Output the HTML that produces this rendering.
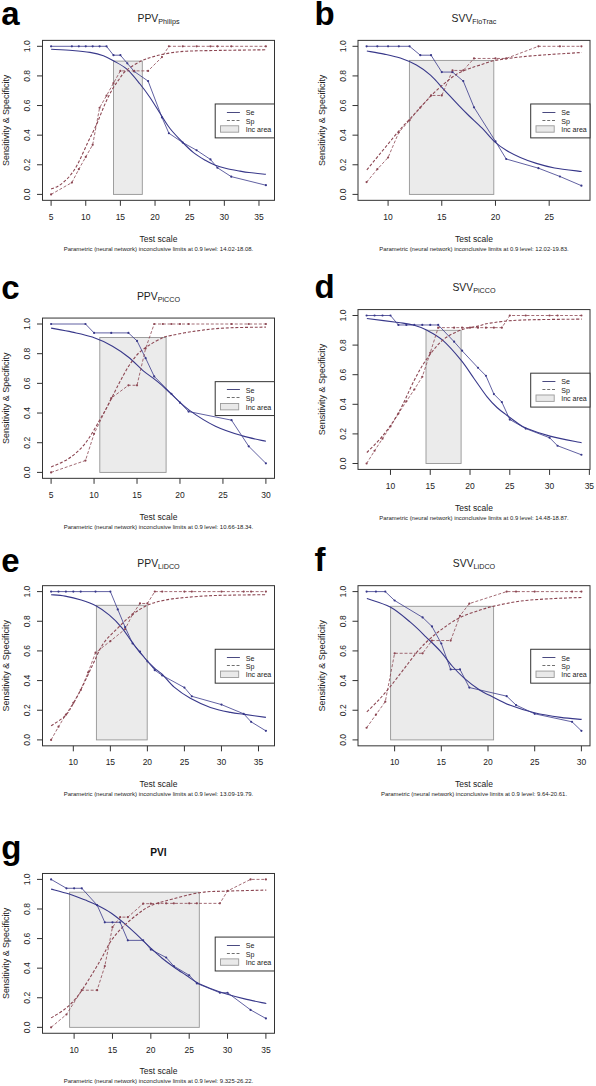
<!DOCTYPE html>
<html><head><meta charset="utf-8"><style>
html,body{margin:0;padding:0;background:#fff;}
svg{display:block;font-family:"Liberation Sans", sans-serif;}
</style></head><body>
<svg width="596" height="1086" viewBox="0 0 596 1086">
<rect width="596" height="1086" fill="#fff"/>
<text x="1.2" y="24.5" font-size="33" font-weight="bold" fill="#000">a</text>
<text x="158.5" y="21.98" text-anchor="middle" fill="#222"><tspan font-size="10.4">PPV</tspan><tspan font-size="7.2" dy="2">Philips</tspan></text>
<rect x="113.5" y="61.1" width="28.8" height="133.3" fill="#ebebeb" stroke="#959595" stroke-width="0.9"/>
<path d="M51.1,49.3 C54.67,49.5 66.02,49.98 72.5,50.5 C78.98,51.02 84.85,51.53 90,52.4 C95.15,53.27 99.48,54.3 103.4,55.7 C107.32,57.1 109.58,58.55 113.5,60.8 C117.42,63.05 122.48,65.33 126.9,69.2 C131.32,73.07 136.15,79.28 140,84 C143.85,88.72 146.3,92.03 150,97.5 C153.7,102.97 158.87,111.63 162.2,116.8 C165.53,121.97 166.73,124.38 170,128.5 C173.27,132.62 177.88,137.48 181.8,141.5 C185.72,145.52 189.58,149.47 193.5,152.6 C197.42,155.73 201.77,158.23 205.3,160.3 C208.83,162.37 211.18,163.63 214.7,165 C218.22,166.37 222.18,167.48 226.4,168.5 C230.62,169.52 236.23,170.43 240,171.1 C243.77,171.77 244.68,171.97 249,172.5 C253.32,173.03 263.08,174 265.9,174.3" fill="none" stroke="#38388a" stroke-width="1.1"/>
<path d="M51.1,188.9 C52.18,188.48 55.53,187.52 57.6,186.4 C59.67,185.28 61.4,184.02 63.5,182.2 C65.6,180.38 67.87,178.45 70.2,175.5 C72.53,172.55 74.6,169.93 77.5,164.5 C80.4,159.07 84.52,149.37 87.6,142.9 C90.68,136.43 93.77,130.58 96,125.7 C98.23,120.82 99.33,117.58 101,113.6 C102.67,109.62 104.18,105.72 106,101.8 C107.82,97.88 109.8,93.73 111.9,90.1 C114,86.47 116.22,83.27 118.6,80 C120.98,76.73 122.47,73.65 126.2,70.5 C129.93,67.35 136.3,63.45 141,61.1 C145.7,58.75 149.57,57.75 154.4,56.4 C159.23,55.05 164.65,53.87 170,53 C175.35,52.13 178.17,51.63 186.5,51.2 C194.83,50.77 206.77,50.63 220,50.4 C233.23,50.17 258.25,49.9 265.9,49.8" fill="none" stroke="#8c4652" stroke-width="1.1" stroke-dasharray="3,1.8"/>
<polyline points="51.1,46.3 71.89,46.3 78.82,46.3 85.75,46.3 92.67,46.3 99.6,46.3 106.53,46.3 113.46,55.19 120.39,55.19 127.32,63.33 134.25,71.48 148.11,81.1 161.96,117.39 168.89,133.23 182.75,142.56 196.61,150.27 210.47,159.45 217.4,167.74 231.25,176.63 265.9,185.22" fill="none" stroke="#38388a" stroke-width="0.8"/>
<polyline points="51.1,194.4 71.89,182.55 78.82,169.22 85.75,156.93 92.67,144.79 99.6,107.76 106.53,95.62 113.46,83.18 120.39,70.88 134.25,70.88 148.11,70.88 161.96,57.11 168.89,46.3 182.75,46.3 196.61,46.3 210.47,46.3 217.4,46.3 231.25,46.3 265.9,46.3" fill="none" stroke="#8c4652" stroke-width="0.8" stroke-dasharray="3,1.8"/>
<circle cx="51.1" cy="46.3" r="1.1" fill="#38388a"/>
<circle cx="71.89" cy="46.3" r="1.1" fill="#38388a"/>
<circle cx="78.82" cy="46.3" r="1.1" fill="#38388a"/>
<circle cx="85.75" cy="46.3" r="1.1" fill="#38388a"/>
<circle cx="92.67" cy="46.3" r="1.1" fill="#38388a"/>
<circle cx="99.6" cy="46.3" r="1.1" fill="#38388a"/>
<circle cx="106.53" cy="46.3" r="1.1" fill="#38388a"/>
<circle cx="113.46" cy="55.19" r="1.1" fill="#38388a"/>
<circle cx="120.39" cy="55.19" r="1.1" fill="#38388a"/>
<circle cx="127.32" cy="63.33" r="1.1" fill="#38388a"/>
<circle cx="134.25" cy="71.48" r="1.1" fill="#38388a"/>
<circle cx="148.11" cy="81.1" r="1.1" fill="#38388a"/>
<circle cx="161.96" cy="117.39" r="1.1" fill="#38388a"/>
<circle cx="168.89" cy="133.23" r="1.1" fill="#38388a"/>
<circle cx="182.75" cy="142.56" r="1.1" fill="#38388a"/>
<circle cx="196.61" cy="150.27" r="1.1" fill="#38388a"/>
<circle cx="210.47" cy="159.45" r="1.1" fill="#38388a"/>
<circle cx="217.4" cy="167.74" r="1.1" fill="#38388a"/>
<circle cx="231.25" cy="176.63" r="1.1" fill="#38388a"/>
<circle cx="265.9" cy="185.22" r="1.1" fill="#38388a"/>
<circle cx="51.1" cy="194.4" r="1.1" fill="#8c4652"/>
<circle cx="71.89" cy="182.55" r="1.1" fill="#8c4652"/>
<circle cx="78.82" cy="169.22" r="1.1" fill="#8c4652"/>
<circle cx="85.75" cy="156.93" r="1.1" fill="#8c4652"/>
<circle cx="92.67" cy="144.79" r="1.1" fill="#8c4652"/>
<circle cx="99.6" cy="107.76" r="1.1" fill="#8c4652"/>
<circle cx="106.53" cy="95.62" r="1.1" fill="#8c4652"/>
<circle cx="113.46" cy="83.18" r="1.1" fill="#8c4652"/>
<circle cx="120.39" cy="70.88" r="1.1" fill="#8c4652"/>
<circle cx="134.25" cy="70.88" r="1.1" fill="#8c4652"/>
<circle cx="148.11" cy="70.88" r="1.1" fill="#8c4652"/>
<circle cx="161.96" cy="57.11" r="1.1" fill="#8c4652"/>
<circle cx="168.89" cy="46.3" r="1.1" fill="#8c4652"/>
<circle cx="182.75" cy="46.3" r="1.1" fill="#8c4652"/>
<circle cx="196.61" cy="46.3" r="1.1" fill="#8c4652"/>
<circle cx="210.47" cy="46.3" r="1.1" fill="#8c4652"/>
<circle cx="217.4" cy="46.3" r="1.1" fill="#8c4652"/>
<circle cx="231.25" cy="46.3" r="1.1" fill="#8c4652"/>
<circle cx="265.9" cy="46.3" r="1.1" fill="#8c4652"/>
<rect x="42.5" y="40.38" width="232" height="159.95" fill="none" stroke="#333333" stroke-width="1"/>
<line x1="37" y1="194.4" x2="42.5" y2="194.4" stroke="#333333" stroke-width="1"/>
<text transform="translate(30.1,194.4) rotate(-90)" text-anchor="middle" font-size="8.5" fill="#222">0.0</text>
<line x1="37" y1="164.78" x2="42.5" y2="164.78" stroke="#333333" stroke-width="1"/>
<text transform="translate(30.1,164.78) rotate(-90)" text-anchor="middle" font-size="8.5" fill="#222">0.2</text>
<line x1="37" y1="135.16" x2="42.5" y2="135.16" stroke="#333333" stroke-width="1"/>
<text transform="translate(30.1,135.16) rotate(-90)" text-anchor="middle" font-size="8.5" fill="#222">0.4</text>
<line x1="37" y1="105.54" x2="42.5" y2="105.54" stroke="#333333" stroke-width="1"/>
<text transform="translate(30.1,105.54) rotate(-90)" text-anchor="middle" font-size="8.5" fill="#222">0.6</text>
<line x1="37" y1="75.92" x2="42.5" y2="75.92" stroke="#333333" stroke-width="1"/>
<text transform="translate(30.1,75.92) rotate(-90)" text-anchor="middle" font-size="8.5" fill="#222">0.8</text>
<line x1="37" y1="46.3" x2="42.5" y2="46.3" stroke="#333333" stroke-width="1"/>
<text transform="translate(30.1,46.3) rotate(-90)" text-anchor="middle" font-size="8.5" fill="#222">1.0</text>
<line x1="51.1" y1="200.32" x2="51.1" y2="205.82" stroke="#333333" stroke-width="1"/>
<text x="51.1" y="219.72" text-anchor="middle" font-size="8.5" fill="#222">5</text>
<line x1="85.75" y1="200.32" x2="85.75" y2="205.82" stroke="#333333" stroke-width="1"/>
<text x="85.75" y="219.72" text-anchor="middle" font-size="8.5" fill="#222">10</text>
<line x1="120.39" y1="200.32" x2="120.39" y2="205.82" stroke="#333333" stroke-width="1"/>
<text x="120.39" y="219.72" text-anchor="middle" font-size="8.5" fill="#222">15</text>
<line x1="155.04" y1="200.32" x2="155.04" y2="205.82" stroke="#333333" stroke-width="1"/>
<text x="155.04" y="219.72" text-anchor="middle" font-size="8.5" fill="#222">20</text>
<line x1="189.68" y1="200.32" x2="189.68" y2="205.82" stroke="#333333" stroke-width="1"/>
<text x="189.68" y="219.72" text-anchor="middle" font-size="8.5" fill="#222">25</text>
<line x1="224.33" y1="200.32" x2="224.33" y2="205.82" stroke="#333333" stroke-width="1"/>
<text x="224.33" y="219.72" text-anchor="middle" font-size="8.5" fill="#222">30</text>
<line x1="258.97" y1="200.32" x2="258.97" y2="205.82" stroke="#333333" stroke-width="1"/>
<text x="258.97" y="219.72" text-anchor="middle" font-size="8.5" fill="#222">35</text>
<text x="158.5" y="241.52" text-anchor="middle" font-size="8.5" fill="#222">Test scale</text>
<text transform="translate(9.1,120.35) rotate(-90)" text-anchor="middle" font-size="8.95" fill="#222">Sensitivity &amp; Specificity</text>
<text x="158.5" y="250.52" text-anchor="middle" font-size="5.95" fill="#222">Parametric (neural network) inconclusive limits at 0.9 level: 14.02-18.08.</text>
<rect x="215.2" y="103.98" width="59.3" height="33.9" fill="#fff" stroke="#333333" stroke-width="1"/>
<line x1="226.9" y1="112.5" x2="239.9" y2="112.5" stroke="#4a4a80" stroke-width="1"/>
<line x1="226.9" y1="120.5" x2="239.9" y2="120.5" stroke="#707070" stroke-width="1" stroke-dasharray="3,1.8"/>
<rect x="220.5" y="125.78" width="18.2" height="6.4" fill="#e9e9e9" stroke="#9a9a9a" stroke-width="0.9"/>
<text x="245.7" y="115.28" font-size="7.1" fill="#222">Se</text>
<text x="245.7" y="123.58" font-size="7.1" fill="#222">Sp</text>
<text x="245.7" y="131.88" font-size="7.1" fill="#222">Inc area</text>
<text x="314.5" y="24.5" font-size="33" font-weight="bold" fill="#000">b</text>
<text x="474" y="21.98" text-anchor="middle" fill="#222"><tspan font-size="10.4">SVV</tspan><tspan font-size="7.2" dy="2">FloTrac</tspan></text>
<rect x="409.4" y="60.4" width="84.4" height="134" fill="#ebebeb" stroke="#959595" stroke-width="0.9"/>
<path d="M366.85,51 C369.74,51.52 378.62,52.92 384.2,54.1 C389.77,55.28 394.93,56.27 400.3,58.1 C405.67,59.93 411.37,62.25 416.4,65.1 C421.43,67.95 425.8,71 430.5,75.2 C435.2,79.4 439.9,85.27 444.6,90.3 C449.3,95.33 454.68,101.2 458.7,105.4 C462.72,109.6 464.8,111.7 468.7,115.5 C472.6,119.3 477.85,123.9 482.1,128.2 C486.35,132.5 490.18,137.62 494.2,141.3 C498.22,144.98 501.85,147.62 506.2,150.3 C510.55,152.98 515.27,155.22 520.3,157.4 C525.33,159.58 530.68,161.63 536.4,163.4 C542.12,165.17 547.06,166.65 554.6,168 C562.14,169.35 577.14,170.92 581.65,171.5" fill="none" stroke="#38388a" stroke-width="1.1"/>
<path d="M366.85,169.8 C369.06,167.12 374.86,160.07 380.1,153.7 C385.34,147.33 393.43,137.3 398.3,131.6 C403.17,125.9 405.62,123.53 409.3,119.5 C412.98,115.47 416.53,111.6 420.4,107.4 C424.27,103.2 428.47,98.32 432.5,94.3 C436.53,90.28 440.58,86.65 444.6,83.3 C448.62,79.95 452.58,76.62 456.6,74.2 C460.62,71.78 464.8,70.32 468.7,68.8 C472.6,67.28 475.78,66.45 480,65.1 C484.22,63.75 487.33,62.05 494,60.7 C500.67,59.35 510.67,58.03 520,57 C529.33,55.97 539.73,55.25 550,54.5 C560.27,53.75 576.38,52.83 581.65,52.5" fill="none" stroke="#8c4652" stroke-width="1.1" stroke-dasharray="3,1.8"/>
<polyline points="366.6,46.3 377.34,46.3 388.08,46.3 398.82,46.3 409.56,46.3 420.3,55.19 431.04,55.19 441.78,72.07 452.52,72.07 463.26,81.1 474,107.32 495.48,141.38 506.22,159 538.44,168.19 559.92,176.48 581.4,185.66" fill="none" stroke="#38388a" stroke-width="0.8"/>
<polyline points="366.6,182.11 377.34,169.22 388.08,157.52 398.82,132.35 409.56,120.35 420.3,107.61 431.04,95.47 441.78,95.47 452.52,70.44 463.26,70.44 474,58.44 495.48,58.44 506.22,58.44 538.44,46.3 559.92,46.3 581.4,46.3" fill="none" stroke="#8c4652" stroke-width="0.8" stroke-dasharray="3,1.8"/>
<circle cx="366.6" cy="46.3" r="1.1" fill="#38388a"/>
<circle cx="377.34" cy="46.3" r="1.1" fill="#38388a"/>
<circle cx="388.08" cy="46.3" r="1.1" fill="#38388a"/>
<circle cx="398.82" cy="46.3" r="1.1" fill="#38388a"/>
<circle cx="409.56" cy="46.3" r="1.1" fill="#38388a"/>
<circle cx="420.3" cy="55.19" r="1.1" fill="#38388a"/>
<circle cx="431.04" cy="55.19" r="1.1" fill="#38388a"/>
<circle cx="441.78" cy="72.07" r="1.1" fill="#38388a"/>
<circle cx="452.52" cy="72.07" r="1.1" fill="#38388a"/>
<circle cx="463.26" cy="81.1" r="1.1" fill="#38388a"/>
<circle cx="474" cy="107.32" r="1.1" fill="#38388a"/>
<circle cx="495.48" cy="141.38" r="1.1" fill="#38388a"/>
<circle cx="506.22" cy="159" r="1.1" fill="#38388a"/>
<circle cx="538.44" cy="168.19" r="1.1" fill="#38388a"/>
<circle cx="559.92" cy="176.48" r="1.1" fill="#38388a"/>
<circle cx="581.4" cy="185.66" r="1.1" fill="#38388a"/>
<circle cx="366.6" cy="182.11" r="1.1" fill="#8c4652"/>
<circle cx="377.34" cy="169.22" r="1.1" fill="#8c4652"/>
<circle cx="388.08" cy="157.52" r="1.1" fill="#8c4652"/>
<circle cx="398.82" cy="132.35" r="1.1" fill="#8c4652"/>
<circle cx="409.56" cy="120.35" r="1.1" fill="#8c4652"/>
<circle cx="420.3" cy="107.61" r="1.1" fill="#8c4652"/>
<circle cx="431.04" cy="95.47" r="1.1" fill="#8c4652"/>
<circle cx="441.78" cy="95.47" r="1.1" fill="#8c4652"/>
<circle cx="452.52" cy="70.44" r="1.1" fill="#8c4652"/>
<circle cx="463.26" cy="70.44" r="1.1" fill="#8c4652"/>
<circle cx="474" cy="58.44" r="1.1" fill="#8c4652"/>
<circle cx="495.48" cy="58.44" r="1.1" fill="#8c4652"/>
<circle cx="506.22" cy="58.44" r="1.1" fill="#8c4652"/>
<circle cx="538.44" cy="46.3" r="1.1" fill="#8c4652"/>
<circle cx="559.92" cy="46.3" r="1.1" fill="#8c4652"/>
<circle cx="581.4" cy="46.3" r="1.1" fill="#8c4652"/>
<rect x="358" y="40.38" width="232" height="159.95" fill="none" stroke="#333333" stroke-width="1"/>
<line x1="352.5" y1="194.4" x2="358" y2="194.4" stroke="#333333" stroke-width="1"/>
<text transform="translate(345.6,194.4) rotate(-90)" text-anchor="middle" font-size="8.5" fill="#222">0.0</text>
<line x1="352.5" y1="164.78" x2="358" y2="164.78" stroke="#333333" stroke-width="1"/>
<text transform="translate(345.6,164.78) rotate(-90)" text-anchor="middle" font-size="8.5" fill="#222">0.2</text>
<line x1="352.5" y1="135.16" x2="358" y2="135.16" stroke="#333333" stroke-width="1"/>
<text transform="translate(345.6,135.16) rotate(-90)" text-anchor="middle" font-size="8.5" fill="#222">0.4</text>
<line x1="352.5" y1="105.54" x2="358" y2="105.54" stroke="#333333" stroke-width="1"/>
<text transform="translate(345.6,105.54) rotate(-90)" text-anchor="middle" font-size="8.5" fill="#222">0.6</text>
<line x1="352.5" y1="75.92" x2="358" y2="75.92" stroke="#333333" stroke-width="1"/>
<text transform="translate(345.6,75.92) rotate(-90)" text-anchor="middle" font-size="8.5" fill="#222">0.8</text>
<line x1="352.5" y1="46.3" x2="358" y2="46.3" stroke="#333333" stroke-width="1"/>
<text transform="translate(345.6,46.3) rotate(-90)" text-anchor="middle" font-size="8.5" fill="#222">1.0</text>
<line x1="388.08" y1="200.32" x2="388.08" y2="205.82" stroke="#333333" stroke-width="1"/>
<text x="388.08" y="219.72" text-anchor="middle" font-size="8.5" fill="#222">10</text>
<line x1="441.78" y1="200.32" x2="441.78" y2="205.82" stroke="#333333" stroke-width="1"/>
<text x="441.78" y="219.72" text-anchor="middle" font-size="8.5" fill="#222">15</text>
<line x1="495.48" y1="200.32" x2="495.48" y2="205.82" stroke="#333333" stroke-width="1"/>
<text x="495.48" y="219.72" text-anchor="middle" font-size="8.5" fill="#222">20</text>
<line x1="549.18" y1="200.32" x2="549.18" y2="205.82" stroke="#333333" stroke-width="1"/>
<text x="549.18" y="219.72" text-anchor="middle" font-size="8.5" fill="#222">25</text>
<text x="474" y="241.52" text-anchor="middle" font-size="8.5" fill="#222">Test scale</text>
<text transform="translate(324.6,120.35) rotate(-90)" text-anchor="middle" font-size="8.95" fill="#222">Sensitivity &amp; Specificity</text>
<text x="474" y="250.52" text-anchor="middle" font-size="5.95" fill="#222">Parametric (neural network) inconclusive limits at 0.9 level: 12.02-19.83.</text>
<rect x="530.7" y="103.98" width="59.3" height="33.9" fill="#fff" stroke="#333333" stroke-width="1"/>
<line x1="542.4" y1="112.5" x2="555.4" y2="112.5" stroke="#4a4a80" stroke-width="1"/>
<line x1="542.4" y1="120.5" x2="555.4" y2="120.5" stroke="#707070" stroke-width="1" stroke-dasharray="3,1.8"/>
<rect x="536" y="125.78" width="18.2" height="6.4" fill="#e9e9e9" stroke="#9a9a9a" stroke-width="0.9"/>
<text x="561.2" y="115.28" font-size="7.1" fill="#222">Se</text>
<text x="561.2" y="123.58" font-size="7.1" fill="#222">Sp</text>
<text x="561.2" y="131.88" font-size="7.1" fill="#222">Inc area</text>
<text x="1.2" y="298.8" font-size="33" font-weight="bold" fill="#000">c</text>
<text x="158.5" y="299.66" text-anchor="middle" fill="#222"><tspan font-size="10.4">PPV</tspan><tspan font-size="7.2" dy="2">PiCCO</tspan></text>
<rect x="99.8" y="337.5" width="66.3" height="134.9" fill="#ebebeb" stroke="#959595" stroke-width="0.9"/>
<path d="M51.1,328.1 C54.62,328.77 65.33,330.6 72.2,332.1 C79.07,333.6 85.58,334.75 92.3,337.1 C99.02,339.45 106.45,342.83 112.5,346.2 C118.55,349.57 123.57,353.28 128.6,357.3 C133.63,361.32 138.35,366.62 142.7,370.3 C147.05,373.98 151.48,376.88 154.7,379.4 C157.92,381.92 159.33,383.05 162,385.4 C164.67,387.75 166.17,389.38 170.7,393.5 C175.23,397.62 181.75,404.65 189.2,410.1 C196.65,415.55 206.5,421.9 215.4,426.2 C224.3,430.5 234.18,433.38 242.6,435.9 C251.02,438.42 262.02,440.4 265.9,441.3" fill="none" stroke="#38388a" stroke-width="1.1"/>
<path d="M51.1,467 C53.95,465.65 63,462.25 68.2,458.9 C73.4,455.55 78.28,451.25 82.3,446.9 C86.32,442.55 89.28,437.5 92.3,432.8 C95.32,428.1 97.72,423.4 100.4,418.7 C103.08,414 105.38,410.32 108.4,404.6 C111.42,398.88 115.13,390.78 118.5,384.4 C121.87,378.02 125.25,371.5 128.6,366.3 C131.95,361.1 134.92,356.88 138.6,353.2 C142.28,349.52 146.8,346.72 150.7,344.2 C154.6,341.68 159.43,339.38 162,338.1 C164.57,336.82 160.55,337.67 166.1,336.5 C171.65,335.33 185.4,332.52 195.3,331.1 C205.2,329.68 213.73,328.67 225.5,328 C237.27,327.33 259.17,327.25 265.9,327.1" fill="none" stroke="#8c4652" stroke-width="1.1" stroke-dasharray="3,1.8"/>
<polyline points="51.1,324 85.47,324 94.06,332.9 111.24,332.9 128.43,332.9 137.02,340.92 145.61,358.13 154.2,376.39 171.39,393.75 179.98,402.65 188.57,411.56 231.53,420.16 248.72,446.28 265.9,463.35" fill="none" stroke="#38388a" stroke-width="0.8"/>
<polyline points="51.1,472.4 85.47,460.53 94.06,433.82 111.24,398.2 128.43,385.29 137.02,385.29 145.61,348.49 154.2,324 162.8,324 171.39,324 179.98,324 188.57,324 231.53,324 248.72,324 265.9,324" fill="none" stroke="#8c4652" stroke-width="0.8" stroke-dasharray="3,1.8"/>
<circle cx="51.1" cy="324" r="1.1" fill="#38388a"/>
<circle cx="85.47" cy="324" r="1.1" fill="#38388a"/>
<circle cx="94.06" cy="332.9" r="1.1" fill="#38388a"/>
<circle cx="111.24" cy="332.9" r="1.1" fill="#38388a"/>
<circle cx="128.43" cy="332.9" r="1.1" fill="#38388a"/>
<circle cx="137.02" cy="340.92" r="1.1" fill="#38388a"/>
<circle cx="145.61" cy="358.13" r="1.1" fill="#38388a"/>
<circle cx="154.2" cy="376.39" r="1.1" fill="#38388a"/>
<circle cx="171.39" cy="393.75" r="1.1" fill="#38388a"/>
<circle cx="179.98" cy="402.65" r="1.1" fill="#38388a"/>
<circle cx="188.57" cy="411.56" r="1.1" fill="#38388a"/>
<circle cx="231.53" cy="420.16" r="1.1" fill="#38388a"/>
<circle cx="248.72" cy="446.28" r="1.1" fill="#38388a"/>
<circle cx="265.9" cy="463.35" r="1.1" fill="#38388a"/>
<circle cx="51.1" cy="472.4" r="1.1" fill="#8c4652"/>
<circle cx="85.47" cy="460.53" r="1.1" fill="#8c4652"/>
<circle cx="94.06" cy="433.82" r="1.1" fill="#8c4652"/>
<circle cx="111.24" cy="398.2" r="1.1" fill="#8c4652"/>
<circle cx="128.43" cy="385.29" r="1.1" fill="#8c4652"/>
<circle cx="137.02" cy="385.29" r="1.1" fill="#8c4652"/>
<circle cx="145.61" cy="348.49" r="1.1" fill="#8c4652"/>
<circle cx="154.2" cy="324" r="1.1" fill="#8c4652"/>
<circle cx="162.8" cy="324" r="1.1" fill="#8c4652"/>
<circle cx="171.39" cy="324" r="1.1" fill="#8c4652"/>
<circle cx="179.98" cy="324" r="1.1" fill="#8c4652"/>
<circle cx="188.57" cy="324" r="1.1" fill="#8c4652"/>
<circle cx="231.53" cy="324" r="1.1" fill="#8c4652"/>
<circle cx="248.72" cy="324" r="1.1" fill="#8c4652"/>
<circle cx="265.9" cy="324" r="1.1" fill="#8c4652"/>
<rect x="42.5" y="318.06" width="232" height="160.27" fill="none" stroke="#333333" stroke-width="1"/>
<line x1="37" y1="472.4" x2="42.5" y2="472.4" stroke="#333333" stroke-width="1"/>
<text transform="translate(30.1,472.4) rotate(-90)" text-anchor="middle" font-size="8.5" fill="#222">0.0</text>
<line x1="37" y1="442.72" x2="42.5" y2="442.72" stroke="#333333" stroke-width="1"/>
<text transform="translate(30.1,442.72) rotate(-90)" text-anchor="middle" font-size="8.5" fill="#222">0.2</text>
<line x1="37" y1="413.04" x2="42.5" y2="413.04" stroke="#333333" stroke-width="1"/>
<text transform="translate(30.1,413.04) rotate(-90)" text-anchor="middle" font-size="8.5" fill="#222">0.4</text>
<line x1="37" y1="383.36" x2="42.5" y2="383.36" stroke="#333333" stroke-width="1"/>
<text transform="translate(30.1,383.36) rotate(-90)" text-anchor="middle" font-size="8.5" fill="#222">0.6</text>
<line x1="37" y1="353.68" x2="42.5" y2="353.68" stroke="#333333" stroke-width="1"/>
<text transform="translate(30.1,353.68) rotate(-90)" text-anchor="middle" font-size="8.5" fill="#222">0.8</text>
<line x1="37" y1="324" x2="42.5" y2="324" stroke="#333333" stroke-width="1"/>
<text transform="translate(30.1,324) rotate(-90)" text-anchor="middle" font-size="8.5" fill="#222">1.0</text>
<line x1="51.1" y1="478.34" x2="51.1" y2="483.84" stroke="#333333" stroke-width="1"/>
<text x="51.1" y="497.74" text-anchor="middle" font-size="8.5" fill="#222">5</text>
<line x1="94.06" y1="478.34" x2="94.06" y2="483.84" stroke="#333333" stroke-width="1"/>
<text x="94.06" y="497.74" text-anchor="middle" font-size="8.5" fill="#222">10</text>
<line x1="137.02" y1="478.34" x2="137.02" y2="483.84" stroke="#333333" stroke-width="1"/>
<text x="137.02" y="497.74" text-anchor="middle" font-size="8.5" fill="#222">15</text>
<line x1="179.98" y1="478.34" x2="179.98" y2="483.84" stroke="#333333" stroke-width="1"/>
<text x="179.98" y="497.74" text-anchor="middle" font-size="8.5" fill="#222">20</text>
<line x1="222.94" y1="478.34" x2="222.94" y2="483.84" stroke="#333333" stroke-width="1"/>
<text x="222.94" y="497.74" text-anchor="middle" font-size="8.5" fill="#222">25</text>
<line x1="265.9" y1="478.34" x2="265.9" y2="483.84" stroke="#333333" stroke-width="1"/>
<text x="265.9" y="497.74" text-anchor="middle" font-size="8.5" fill="#222">30</text>
<text x="158.5" y="519.54" text-anchor="middle" font-size="8.5" fill="#222">Test scale</text>
<text transform="translate(9.1,398.2) rotate(-90)" text-anchor="middle" font-size="8.95" fill="#222">Sensitivity &amp; Specificity</text>
<text x="158.5" y="528.54" text-anchor="middle" font-size="5.95" fill="#222">Parametric (neural network) inconclusive limits at 0.9 level: 10.66-18.34.</text>
<rect x="215.2" y="381.66" width="59.3" height="33.9" fill="#fff" stroke="#333333" stroke-width="1"/>
<line x1="226.9" y1="389.5" x2="239.9" y2="389.5" stroke="#4a4a80" stroke-width="1"/>
<line x1="226.9" y1="397.5" x2="239.9" y2="397.5" stroke="#707070" stroke-width="1" stroke-dasharray="3,1.8"/>
<rect x="220.5" y="403.46" width="18.2" height="6.4" fill="#e9e9e9" stroke="#9a9a9a" stroke-width="0.9"/>
<text x="245.7" y="392.96" font-size="7.1" fill="#222">Se</text>
<text x="245.7" y="401.26" font-size="7.1" fill="#222">Sp</text>
<text x="245.7" y="409.56" font-size="7.1" fill="#222">Inc area</text>
<text x="314.5" y="298.2" font-size="33" font-weight="bold" fill="#000">d</text>
<text x="474" y="291.18" text-anchor="middle" fill="#222"><tspan font-size="10.4">SVV</tspan><tspan font-size="7.2" dy="2">PiCCO</tspan></text>
<rect x="426" y="330.3" width="35.1" height="133.2" fill="#ebebeb" stroke="#959595" stroke-width="0.9"/>
<path d="M366.85,318.5 C372.09,319.17 390.54,321.42 398.3,322.5 C406.06,323.58 408.7,323.73 413.4,325 C418.1,326.27 421.63,327.57 426.5,330.1 C431.37,332.63 436.85,335.18 442.6,340.2 C448.35,345.22 455.77,353.82 461,360.2 C466.23,366.58 469.65,372.38 474,378.5 C478.35,384.62 483.27,392.07 487.1,396.9 C490.93,401.73 493.72,404.45 497,407.5 C500.28,410.55 503.63,412.78 506.8,415.2 C509.97,417.62 512.73,419.82 516,422 C519.27,424.18 520.73,425.95 526.4,428.3 C532.07,430.65 540.79,433.7 550,436.1 C559.21,438.5 576.38,441.6 581.65,442.7" fill="none" stroke="#38388a" stroke-width="1.1"/>
<path d="M366.85,452.5 C369.41,449.82 376.96,442.95 382.2,436.4 C387.44,429.85 392.93,422.6 398.3,413.2 C403.67,403.8 409.7,388.98 414.4,380 C419.1,371.02 421.8,365.93 426.5,359.3 C431.2,352.67 436.9,345.07 442.6,340.2 C448.3,335.33 454.8,332.45 460.7,330.1 C466.6,327.75 473.1,327.27 478,326.1 C482.9,324.93 483.05,324.1 490.1,323.1 C497.15,322.1 505.04,320.77 520.3,320.1 C535.56,319.43 571.42,319.27 581.65,319.1" fill="none" stroke="#8c4652" stroke-width="1.1" stroke-dasharray="3,1.8"/>
<polyline points="366.6,315.5 374.56,315.5 382.51,315.5 390.47,315.5 398.42,324.97 406.38,324.97 414.33,324.97 422.29,324.97 430.24,324.97 438.2,324.97 454.11,341.7 462.07,350.72 477.98,367.74 485.93,375.74 493.89,394.09 501.84,402.08 509.8,419.54 525.71,428.57 549.58,437.75 557.53,445.74 581.4,454.77" fill="none" stroke="#38388a" stroke-width="0.8"/>
<polyline points="366.6,463.5 374.56,450.77 382.51,438.64 390.47,426.5 398.42,413.62 406.38,401.34 414.33,389.5 422.29,376.77 430.24,352.8 438.2,327.64 454.11,327.64 462.07,327.64 470.02,327.64 477.98,327.64 485.93,327.64 493.89,327.64 501.84,327.64 509.8,315.5 525.71,315.5 549.58,315.5 557.53,315.5 581.4,315.5" fill="none" stroke="#8c4652" stroke-width="0.8" stroke-dasharray="3,1.8"/>
<circle cx="366.6" cy="315.5" r="1.1" fill="#38388a"/>
<circle cx="374.56" cy="315.5" r="1.1" fill="#38388a"/>
<circle cx="382.51" cy="315.5" r="1.1" fill="#38388a"/>
<circle cx="390.47" cy="315.5" r="1.1" fill="#38388a"/>
<circle cx="398.42" cy="324.97" r="1.1" fill="#38388a"/>
<circle cx="406.38" cy="324.97" r="1.1" fill="#38388a"/>
<circle cx="414.33" cy="324.97" r="1.1" fill="#38388a"/>
<circle cx="422.29" cy="324.97" r="1.1" fill="#38388a"/>
<circle cx="430.24" cy="324.97" r="1.1" fill="#38388a"/>
<circle cx="438.2" cy="324.97" r="1.1" fill="#38388a"/>
<circle cx="454.11" cy="341.7" r="1.1" fill="#38388a"/>
<circle cx="462.07" cy="350.72" r="1.1" fill="#38388a"/>
<circle cx="477.98" cy="367.74" r="1.1" fill="#38388a"/>
<circle cx="485.93" cy="375.74" r="1.1" fill="#38388a"/>
<circle cx="493.89" cy="394.09" r="1.1" fill="#38388a"/>
<circle cx="501.84" cy="402.08" r="1.1" fill="#38388a"/>
<circle cx="509.8" cy="419.54" r="1.1" fill="#38388a"/>
<circle cx="525.71" cy="428.57" r="1.1" fill="#38388a"/>
<circle cx="549.58" cy="437.75" r="1.1" fill="#38388a"/>
<circle cx="557.53" cy="445.74" r="1.1" fill="#38388a"/>
<circle cx="581.4" cy="454.77" r="1.1" fill="#38388a"/>
<circle cx="366.6" cy="463.5" r="1.1" fill="#8c4652"/>
<circle cx="374.56" cy="450.77" r="1.1" fill="#8c4652"/>
<circle cx="382.51" cy="438.64" r="1.1" fill="#8c4652"/>
<circle cx="390.47" cy="426.5" r="1.1" fill="#8c4652"/>
<circle cx="398.42" cy="413.62" r="1.1" fill="#8c4652"/>
<circle cx="406.38" cy="401.34" r="1.1" fill="#8c4652"/>
<circle cx="414.33" cy="389.5" r="1.1" fill="#8c4652"/>
<circle cx="422.29" cy="376.77" r="1.1" fill="#8c4652"/>
<circle cx="430.24" cy="352.8" r="1.1" fill="#8c4652"/>
<circle cx="438.2" cy="327.64" r="1.1" fill="#8c4652"/>
<circle cx="454.11" cy="327.64" r="1.1" fill="#8c4652"/>
<circle cx="462.07" cy="327.64" r="1.1" fill="#8c4652"/>
<circle cx="470.02" cy="327.64" r="1.1" fill="#8c4652"/>
<circle cx="477.98" cy="327.64" r="1.1" fill="#8c4652"/>
<circle cx="485.93" cy="327.64" r="1.1" fill="#8c4652"/>
<circle cx="493.89" cy="327.64" r="1.1" fill="#8c4652"/>
<circle cx="501.84" cy="327.64" r="1.1" fill="#8c4652"/>
<circle cx="509.8" cy="315.5" r="1.1" fill="#8c4652"/>
<circle cx="525.71" cy="315.5" r="1.1" fill="#8c4652"/>
<circle cx="549.58" cy="315.5" r="1.1" fill="#8c4652"/>
<circle cx="557.53" cy="315.5" r="1.1" fill="#8c4652"/>
<circle cx="581.4" cy="315.5" r="1.1" fill="#8c4652"/>
<rect x="358" y="309.58" width="232" height="159.84" fill="none" stroke="#333333" stroke-width="1"/>
<line x1="352.5" y1="463.5" x2="358" y2="463.5" stroke="#333333" stroke-width="1"/>
<text transform="translate(345.6,463.5) rotate(-90)" text-anchor="middle" font-size="8.5" fill="#222">0.0</text>
<line x1="352.5" y1="433.9" x2="358" y2="433.9" stroke="#333333" stroke-width="1"/>
<text transform="translate(345.6,433.9) rotate(-90)" text-anchor="middle" font-size="8.5" fill="#222">0.2</text>
<line x1="352.5" y1="404.3" x2="358" y2="404.3" stroke="#333333" stroke-width="1"/>
<text transform="translate(345.6,404.3) rotate(-90)" text-anchor="middle" font-size="8.5" fill="#222">0.4</text>
<line x1="352.5" y1="374.7" x2="358" y2="374.7" stroke="#333333" stroke-width="1"/>
<text transform="translate(345.6,374.7) rotate(-90)" text-anchor="middle" font-size="8.5" fill="#222">0.6</text>
<line x1="352.5" y1="345.1" x2="358" y2="345.1" stroke="#333333" stroke-width="1"/>
<text transform="translate(345.6,345.1) rotate(-90)" text-anchor="middle" font-size="8.5" fill="#222">0.8</text>
<line x1="352.5" y1="315.5" x2="358" y2="315.5" stroke="#333333" stroke-width="1"/>
<text transform="translate(345.6,315.5) rotate(-90)" text-anchor="middle" font-size="8.5" fill="#222">1.0</text>
<line x1="390.47" y1="469.42" x2="390.47" y2="474.92" stroke="#333333" stroke-width="1"/>
<text x="390.47" y="488.82" text-anchor="middle" font-size="8.5" fill="#222">10</text>
<line x1="430.24" y1="469.42" x2="430.24" y2="474.92" stroke="#333333" stroke-width="1"/>
<text x="430.24" y="488.82" text-anchor="middle" font-size="8.5" fill="#222">15</text>
<line x1="470.02" y1="469.42" x2="470.02" y2="474.92" stroke="#333333" stroke-width="1"/>
<text x="470.02" y="488.82" text-anchor="middle" font-size="8.5" fill="#222">20</text>
<line x1="509.8" y1="469.42" x2="509.8" y2="474.92" stroke="#333333" stroke-width="1"/>
<text x="509.8" y="488.82" text-anchor="middle" font-size="8.5" fill="#222">25</text>
<line x1="549.58" y1="469.42" x2="549.58" y2="474.92" stroke="#333333" stroke-width="1"/>
<text x="549.58" y="488.82" text-anchor="middle" font-size="8.5" fill="#222">30</text>
<line x1="589.36" y1="469.42" x2="589.36" y2="474.92" stroke="#333333" stroke-width="1"/>
<text x="589.36" y="488.82" text-anchor="middle" font-size="8.5" fill="#222">35</text>
<text x="474" y="510.62" text-anchor="middle" font-size="8.5" fill="#222">Test scale</text>
<text transform="translate(324.6,389.5) rotate(-90)" text-anchor="middle" font-size="8.95" fill="#222">Sensitivity &amp; Specificity</text>
<text x="474" y="519.62" text-anchor="middle" font-size="5.95" fill="#222">Parametric (neural network) inconclusive limits at 0.9 level: 14.48-18.87.</text>
<rect x="530.7" y="373.18" width="59.3" height="33.9" fill="#fff" stroke="#333333" stroke-width="1"/>
<line x1="542.4" y1="381.5" x2="555.4" y2="381.5" stroke="#4a4a80" stroke-width="1"/>
<line x1="542.4" y1="389.5" x2="555.4" y2="389.5" stroke="#707070" stroke-width="1" stroke-dasharray="3,1.8"/>
<rect x="536" y="394.98" width="18.2" height="6.4" fill="#e9e9e9" stroke="#9a9a9a" stroke-width="0.9"/>
<text x="561.2" y="384.48" font-size="7.1" fill="#222">Se</text>
<text x="561.2" y="392.78" font-size="7.1" fill="#222">Sp</text>
<text x="561.2" y="401.08" font-size="7.1" fill="#222">Inc area</text>
<text x="1.2" y="571.5" font-size="33" font-weight="bold" fill="#000">e</text>
<text x="158.5" y="567.27" text-anchor="middle" fill="#222"><tspan font-size="10.4">PPV</tspan><tspan font-size="7.2" dy="2">LiDCO</tspan></text>
<rect x="96.4" y="605.3" width="50.8" height="134.6" fill="#ebebeb" stroke="#959595" stroke-width="0.9"/>
<path d="M51.1,594.7 C53.43,594.93 60.08,595.2 65.1,596.1 C70.12,597 76,598.43 81.2,600.1 C86.4,601.77 91.6,603.58 96.3,606.1 C101,608.62 105.2,611.67 109.4,615.2 C113.6,618.73 117.8,622.93 121.5,627.3 C125.2,631.67 128.25,636.87 131.6,641.4 C134.95,645.93 137.92,650.15 141.6,654.5 C145.28,658.85 150.28,664.22 153.7,667.5 C157.12,670.78 158.68,670.92 162.1,674.2 C165.52,677.48 169.5,683.18 174.2,687.2 C178.9,691.22 184.27,694.93 190.3,698.3 C196.33,701.67 203.7,705.05 210.4,707.4 C217.1,709.75 224.8,711.23 230.5,712.4 C236.2,713.57 238.7,713.57 244.6,714.4 C250.5,715.23 262.35,716.9 265.9,717.4" fill="none" stroke="#38388a" stroke-width="1.1"/>
<path d="M51.1,725.9 C53.43,724.23 61.42,719.58 65.1,715.9 C68.78,712.22 70.17,709 73.2,703.8 C76.23,698.6 79.95,691.42 83.3,684.7 C86.65,677.98 89.95,670.38 93.3,663.5 C96.65,656.62 99.37,649.27 103.4,643.4 C107.43,637.53 112.8,633 117.5,628.3 C122.2,623.6 126.57,619.07 131.6,615.2 C136.63,611.33 142.13,607.62 147.7,605.1 C153.27,602.58 158.75,601.37 165,600.1 C171.25,598.83 176.8,598.27 185.2,597.5 C193.6,596.73 201.95,595.97 215.4,595.5 C228.85,595.03 257.48,594.83 265.9,594.7" fill="none" stroke="#8c4652" stroke-width="1.1" stroke-dasharray="3,1.8"/>
<polyline points="51.1,591.6 58.51,591.6 65.91,591.6 73.32,591.6 80.73,591.6 95.54,591.6 110.36,591.6 117.76,609.4 125.17,627.19 132.58,643.5 139.98,651.66 147.39,661.3 154.8,670.2 162.2,675.39 184.42,687.55 191.83,696.3 221.46,704.6 243.68,713.8 251.09,721.81 265.9,730.85" fill="none" stroke="#38388a" stroke-width="0.8"/>
<polyline points="51.1,739.9 58.51,726.7 65.91,714.69 73.32,702.83 80.73,690.07 88.13,672.42 95.54,652.7 110.36,641.13 125.17,629.12 132.58,614.29 139.98,603.46 147.39,603.46 154.8,591.6 162.2,591.6 184.42,591.6 191.83,591.6 221.46,591.6 243.68,591.6 251.09,591.6 265.9,591.6" fill="none" stroke="#8c4652" stroke-width="0.8" stroke-dasharray="3,1.8"/>
<circle cx="51.1" cy="591.6" r="1.1" fill="#38388a"/>
<circle cx="58.51" cy="591.6" r="1.1" fill="#38388a"/>
<circle cx="65.91" cy="591.6" r="1.1" fill="#38388a"/>
<circle cx="73.32" cy="591.6" r="1.1" fill="#38388a"/>
<circle cx="80.73" cy="591.6" r="1.1" fill="#38388a"/>
<circle cx="95.54" cy="591.6" r="1.1" fill="#38388a"/>
<circle cx="110.36" cy="591.6" r="1.1" fill="#38388a"/>
<circle cx="117.76" cy="609.4" r="1.1" fill="#38388a"/>
<circle cx="125.17" cy="627.19" r="1.1" fill="#38388a"/>
<circle cx="132.58" cy="643.5" r="1.1" fill="#38388a"/>
<circle cx="139.98" cy="651.66" r="1.1" fill="#38388a"/>
<circle cx="147.39" cy="661.3" r="1.1" fill="#38388a"/>
<circle cx="154.8" cy="670.2" r="1.1" fill="#38388a"/>
<circle cx="162.2" cy="675.39" r="1.1" fill="#38388a"/>
<circle cx="184.42" cy="687.55" r="1.1" fill="#38388a"/>
<circle cx="191.83" cy="696.3" r="1.1" fill="#38388a"/>
<circle cx="221.46" cy="704.6" r="1.1" fill="#38388a"/>
<circle cx="243.68" cy="713.8" r="1.1" fill="#38388a"/>
<circle cx="251.09" cy="721.81" r="1.1" fill="#38388a"/>
<circle cx="265.9" cy="730.85" r="1.1" fill="#38388a"/>
<circle cx="51.1" cy="739.9" r="1.1" fill="#8c4652"/>
<circle cx="58.51" cy="726.7" r="1.1" fill="#8c4652"/>
<circle cx="65.91" cy="714.69" r="1.1" fill="#8c4652"/>
<circle cx="73.32" cy="702.83" r="1.1" fill="#8c4652"/>
<circle cx="80.73" cy="690.07" r="1.1" fill="#8c4652"/>
<circle cx="88.13" cy="672.42" r="1.1" fill="#8c4652"/>
<circle cx="95.54" cy="652.7" r="1.1" fill="#8c4652"/>
<circle cx="110.36" cy="641.13" r="1.1" fill="#8c4652"/>
<circle cx="125.17" cy="629.12" r="1.1" fill="#8c4652"/>
<circle cx="132.58" cy="614.29" r="1.1" fill="#8c4652"/>
<circle cx="139.98" cy="603.46" r="1.1" fill="#8c4652"/>
<circle cx="147.39" cy="603.46" r="1.1" fill="#8c4652"/>
<circle cx="154.8" cy="591.6" r="1.1" fill="#8c4652"/>
<circle cx="162.2" cy="591.6" r="1.1" fill="#8c4652"/>
<circle cx="184.42" cy="591.6" r="1.1" fill="#8c4652"/>
<circle cx="191.83" cy="591.6" r="1.1" fill="#8c4652"/>
<circle cx="221.46" cy="591.6" r="1.1" fill="#8c4652"/>
<circle cx="243.68" cy="591.6" r="1.1" fill="#8c4652"/>
<circle cx="251.09" cy="591.6" r="1.1" fill="#8c4652"/>
<circle cx="265.9" cy="591.6" r="1.1" fill="#8c4652"/>
<rect x="42.5" y="585.67" width="232" height="160.16" fill="none" stroke="#333333" stroke-width="1"/>
<line x1="37" y1="739.9" x2="42.5" y2="739.9" stroke="#333333" stroke-width="1"/>
<text transform="translate(30.1,739.9) rotate(-90)" text-anchor="middle" font-size="8.5" fill="#222">0.0</text>
<line x1="37" y1="710.24" x2="42.5" y2="710.24" stroke="#333333" stroke-width="1"/>
<text transform="translate(30.1,710.24) rotate(-90)" text-anchor="middle" font-size="8.5" fill="#222">0.2</text>
<line x1="37" y1="680.58" x2="42.5" y2="680.58" stroke="#333333" stroke-width="1"/>
<text transform="translate(30.1,680.58) rotate(-90)" text-anchor="middle" font-size="8.5" fill="#222">0.4</text>
<line x1="37" y1="650.92" x2="42.5" y2="650.92" stroke="#333333" stroke-width="1"/>
<text transform="translate(30.1,650.92) rotate(-90)" text-anchor="middle" font-size="8.5" fill="#222">0.6</text>
<line x1="37" y1="621.26" x2="42.5" y2="621.26" stroke="#333333" stroke-width="1"/>
<text transform="translate(30.1,621.26) rotate(-90)" text-anchor="middle" font-size="8.5" fill="#222">0.8</text>
<line x1="37" y1="591.6" x2="42.5" y2="591.6" stroke="#333333" stroke-width="1"/>
<text transform="translate(30.1,591.6) rotate(-90)" text-anchor="middle" font-size="8.5" fill="#222">1.0</text>
<line x1="73.32" y1="745.83" x2="73.32" y2="751.33" stroke="#333333" stroke-width="1"/>
<text x="73.32" y="765.23" text-anchor="middle" font-size="8.5" fill="#222">10</text>
<line x1="110.36" y1="745.83" x2="110.36" y2="751.33" stroke="#333333" stroke-width="1"/>
<text x="110.36" y="765.23" text-anchor="middle" font-size="8.5" fill="#222">15</text>
<line x1="147.39" y1="745.83" x2="147.39" y2="751.33" stroke="#333333" stroke-width="1"/>
<text x="147.39" y="765.23" text-anchor="middle" font-size="8.5" fill="#222">20</text>
<line x1="184.42" y1="745.83" x2="184.42" y2="751.33" stroke="#333333" stroke-width="1"/>
<text x="184.42" y="765.23" text-anchor="middle" font-size="8.5" fill="#222">25</text>
<line x1="221.46" y1="745.83" x2="221.46" y2="751.33" stroke="#333333" stroke-width="1"/>
<text x="221.46" y="765.23" text-anchor="middle" font-size="8.5" fill="#222">30</text>
<line x1="258.49" y1="745.83" x2="258.49" y2="751.33" stroke="#333333" stroke-width="1"/>
<text x="258.49" y="765.23" text-anchor="middle" font-size="8.5" fill="#222">35</text>
<text x="158.5" y="787.03" text-anchor="middle" font-size="8.5" fill="#222">Test scale</text>
<text transform="translate(9.1,665.75) rotate(-90)" text-anchor="middle" font-size="8.95" fill="#222">Sensitivity &amp; Specificity</text>
<text x="158.5" y="796.03" text-anchor="middle" font-size="5.95" fill="#222">Parametric (neural network) inconclusive limits at 0.9 level: 13.09-19.79.</text>
<rect x="215.2" y="649.27" width="59.3" height="33.9" fill="#fff" stroke="#333333" stroke-width="1"/>
<line x1="226.9" y1="657.5" x2="239.9" y2="657.5" stroke="#4a4a80" stroke-width="1"/>
<line x1="226.9" y1="665.5" x2="239.9" y2="665.5" stroke="#707070" stroke-width="1" stroke-dasharray="3,1.8"/>
<rect x="220.5" y="671.07" width="18.2" height="6.4" fill="#e9e9e9" stroke="#9a9a9a" stroke-width="0.9"/>
<text x="245.7" y="660.57" font-size="7.1" fill="#222">Se</text>
<text x="245.7" y="668.87" font-size="7.1" fill="#222">Sp</text>
<text x="245.7" y="677.17" font-size="7.1" fill="#222">Inc area</text>
<text x="314.5" y="571.2" font-size="33" font-weight="bold" fill="#000">f</text>
<text x="474" y="567.27" text-anchor="middle" fill="#222"><tspan font-size="10.4">SVV</tspan><tspan font-size="7.2" dy="2">LiDCO</tspan></text>
<rect x="390.6" y="606.3" width="103" height="133.6" fill="#ebebeb" stroke="#959595" stroke-width="0.9"/>
<path d="M366.85,598.5 C370.74,599.93 382.96,603.15 390.2,607.1 C397.44,611.05 404.27,617.17 410.3,622.2 C416.33,627.23 421.37,632.43 426.4,637.3 C431.43,642.17 436.13,646.53 440.5,651.4 C444.87,656.27 448.57,661.97 452.6,666.5 C456.63,671.03 460.13,674.63 464.7,678.6 C469.27,682.57 475.77,687.48 480,690.3 C484.23,693.12 485.05,693 490.1,695.5 C495.15,698 502.92,702.43 510.3,705.3 C517.68,708.17 526.02,710.68 534.4,712.7 C542.78,714.72 552.73,716.28 560.6,717.4 C568.48,718.52 578.14,719.07 581.65,719.4" fill="none" stroke="#38388a" stroke-width="1.1"/>
<path d="M366.85,711.8 C368.73,709.95 374.21,704.9 378.1,700.7 C381.99,696.5 385.83,691.97 390.2,686.6 C394.57,681.23 399.6,674.53 404.3,668.5 C409,662.47 414.03,655.43 418.4,650.4 C422.77,645.37 426.13,642.17 430.5,638.3 C434.87,634.43 439.57,630.72 444.6,627.2 C449.63,623.68 454.8,620.05 460.7,617.2 C466.6,614.35 474.42,611.95 480,610.1 C485.58,608.25 487.48,607.6 494.2,606.1 C500.92,604.6 510.92,602.33 520.3,601.1 C529.68,599.87 540.27,599.3 550.5,598.7 C560.73,598.1 576.46,597.7 581.65,597.5" fill="none" stroke="#8c4652" stroke-width="1.1" stroke-dasharray="3,1.8"/>
<polyline points="366.6,591.6 375.94,591.6 385.28,591.6 394.62,600.5 422.63,617.4 431.97,626.45 441.31,643.5 450.65,669.46 459.99,669.46 469.33,687.55 506.69,696.15 516.03,705.05 534.7,713.8 572.06,721.81 581.4,730.85" fill="none" stroke="#38388a" stroke-width="0.8"/>
<polyline points="366.6,727.74 375.94,714.69 385.28,701.64 394.62,653.29 422.63,653.29 431.97,640.54 450.65,640.54 459.99,615.77 469.33,603.61 506.69,591.6 516.03,591.6 534.7,591.6 572.06,591.6 581.4,591.6" fill="none" stroke="#8c4652" stroke-width="0.8" stroke-dasharray="3,1.8"/>
<circle cx="366.6" cy="591.6" r="1.1" fill="#38388a"/>
<circle cx="375.94" cy="591.6" r="1.1" fill="#38388a"/>
<circle cx="385.28" cy="591.6" r="1.1" fill="#38388a"/>
<circle cx="394.62" cy="600.5" r="1.1" fill="#38388a"/>
<circle cx="422.63" cy="617.4" r="1.1" fill="#38388a"/>
<circle cx="431.97" cy="626.45" r="1.1" fill="#38388a"/>
<circle cx="441.31" cy="643.5" r="1.1" fill="#38388a"/>
<circle cx="450.65" cy="669.46" r="1.1" fill="#38388a"/>
<circle cx="459.99" cy="669.46" r="1.1" fill="#38388a"/>
<circle cx="469.33" cy="687.55" r="1.1" fill="#38388a"/>
<circle cx="506.69" cy="696.15" r="1.1" fill="#38388a"/>
<circle cx="516.03" cy="705.05" r="1.1" fill="#38388a"/>
<circle cx="534.7" cy="713.8" r="1.1" fill="#38388a"/>
<circle cx="572.06" cy="721.81" r="1.1" fill="#38388a"/>
<circle cx="581.4" cy="730.85" r="1.1" fill="#38388a"/>
<circle cx="366.6" cy="727.74" r="1.1" fill="#8c4652"/>
<circle cx="375.94" cy="714.69" r="1.1" fill="#8c4652"/>
<circle cx="385.28" cy="701.64" r="1.1" fill="#8c4652"/>
<circle cx="394.62" cy="653.29" r="1.1" fill="#8c4652"/>
<circle cx="422.63" cy="653.29" r="1.1" fill="#8c4652"/>
<circle cx="431.97" cy="640.54" r="1.1" fill="#8c4652"/>
<circle cx="450.65" cy="640.54" r="1.1" fill="#8c4652"/>
<circle cx="459.99" cy="615.77" r="1.1" fill="#8c4652"/>
<circle cx="469.33" cy="603.61" r="1.1" fill="#8c4652"/>
<circle cx="506.69" cy="591.6" r="1.1" fill="#8c4652"/>
<circle cx="516.03" cy="591.6" r="1.1" fill="#8c4652"/>
<circle cx="534.7" cy="591.6" r="1.1" fill="#8c4652"/>
<circle cx="572.06" cy="591.6" r="1.1" fill="#8c4652"/>
<circle cx="581.4" cy="591.6" r="1.1" fill="#8c4652"/>
<rect x="358" y="585.67" width="232" height="160.16" fill="none" stroke="#333333" stroke-width="1"/>
<line x1="352.5" y1="739.9" x2="358" y2="739.9" stroke="#333333" stroke-width="1"/>
<text transform="translate(345.6,739.9) rotate(-90)" text-anchor="middle" font-size="8.5" fill="#222">0.0</text>
<line x1="352.5" y1="710.24" x2="358" y2="710.24" stroke="#333333" stroke-width="1"/>
<text transform="translate(345.6,710.24) rotate(-90)" text-anchor="middle" font-size="8.5" fill="#222">0.2</text>
<line x1="352.5" y1="680.58" x2="358" y2="680.58" stroke="#333333" stroke-width="1"/>
<text transform="translate(345.6,680.58) rotate(-90)" text-anchor="middle" font-size="8.5" fill="#222">0.4</text>
<line x1="352.5" y1="650.92" x2="358" y2="650.92" stroke="#333333" stroke-width="1"/>
<text transform="translate(345.6,650.92) rotate(-90)" text-anchor="middle" font-size="8.5" fill="#222">0.6</text>
<line x1="352.5" y1="621.26" x2="358" y2="621.26" stroke="#333333" stroke-width="1"/>
<text transform="translate(345.6,621.26) rotate(-90)" text-anchor="middle" font-size="8.5" fill="#222">0.8</text>
<line x1="352.5" y1="591.6" x2="358" y2="591.6" stroke="#333333" stroke-width="1"/>
<text transform="translate(345.6,591.6) rotate(-90)" text-anchor="middle" font-size="8.5" fill="#222">1.0</text>
<line x1="394.62" y1="745.83" x2="394.62" y2="751.33" stroke="#333333" stroke-width="1"/>
<text x="394.62" y="765.23" text-anchor="middle" font-size="8.5" fill="#222">10</text>
<line x1="441.31" y1="745.83" x2="441.31" y2="751.33" stroke="#333333" stroke-width="1"/>
<text x="441.31" y="765.23" text-anchor="middle" font-size="8.5" fill="#222">15</text>
<line x1="488.01" y1="745.83" x2="488.01" y2="751.33" stroke="#333333" stroke-width="1"/>
<text x="488.01" y="765.23" text-anchor="middle" font-size="8.5" fill="#222">20</text>
<line x1="534.7" y1="745.83" x2="534.7" y2="751.33" stroke="#333333" stroke-width="1"/>
<text x="534.7" y="765.23" text-anchor="middle" font-size="8.5" fill="#222">25</text>
<line x1="581.4" y1="745.83" x2="581.4" y2="751.33" stroke="#333333" stroke-width="1"/>
<text x="581.4" y="765.23" text-anchor="middle" font-size="8.5" fill="#222">30</text>
<text x="474" y="787.03" text-anchor="middle" font-size="8.5" fill="#222">Test scale</text>
<text transform="translate(324.6,665.75) rotate(-90)" text-anchor="middle" font-size="8.95" fill="#222">Sensitivity &amp; Specificity</text>
<text x="474" y="796.03" text-anchor="middle" font-size="5.95" fill="#222">Parametric (neural network) inconclusive limits at 0.9 level: 9.64-20.61.</text>
<rect x="530.7" y="649.27" width="59.3" height="33.9" fill="#fff" stroke="#333333" stroke-width="1"/>
<line x1="542.4" y1="657.5" x2="555.4" y2="657.5" stroke="#4a4a80" stroke-width="1"/>
<line x1="542.4" y1="665.5" x2="555.4" y2="665.5" stroke="#707070" stroke-width="1" stroke-dasharray="3,1.8"/>
<rect x="536" y="671.07" width="18.2" height="6.4" fill="#e9e9e9" stroke="#9a9a9a" stroke-width="0.9"/>
<text x="561.2" y="660.57" font-size="7.1" fill="#222">Se</text>
<text x="561.2" y="668.87" font-size="7.1" fill="#222">Sp</text>
<text x="561.2" y="677.17" font-size="7.1" fill="#222">Inc area</text>
<text x="1.2" y="859" font-size="33" font-weight="bold" fill="#000">g</text>
<text x="158.5" y="855.68" font-size="10.2" font-weight="bold" text-anchor="middle" fill="#111">PVI</text>
<rect x="69.6" y="892.2" width="129.7" height="135.15" fill="#ebebeb" stroke="#959595" stroke-width="0.9"/>
<path d="M51.1,889.1 C54.12,889.93 63.5,892.27 69.2,894.1 C74.9,895.93 80.62,898.25 85.3,900.1 C89.98,901.95 92.95,903.02 97.3,905.2 C101.65,907.38 106.7,910.02 111.4,913.2 C116.1,916.38 121.13,920.6 125.5,924.3 C129.87,928 133.35,931.4 137.6,935.4 C141.85,939.4 146.92,944.5 151,948.3 C155.08,952.1 158.23,955.05 162.1,958.2 C165.97,961.35 170.18,964.35 174.2,967.2 C178.22,970.05 182.35,972.72 186.2,975.3 C190.05,977.88 193.27,980.52 197.3,982.7 C201.33,984.88 205.53,986.52 210.4,988.4 C215.27,990.28 220.8,992.25 226.5,994 C232.2,995.75 237.97,997.32 244.6,998.9 C251.23,1000.48 262.68,1002.73 266.3,1003.5" fill="none" stroke="#38388a" stroke-width="1.1"/>
<path d="M51.1,1017.9 C53.43,1016.4 60.75,1012.42 65.1,1008.9 C69.45,1005.38 73.17,1001.83 77.2,996.8 C81.23,991.77 85.27,985.08 89.3,978.7 C93.33,972.32 97.72,964.88 101.4,958.5 C105.08,952.12 107.72,945.77 111.4,940.4 C115.08,935.03 119.13,930.67 123.5,926.3 C127.87,921.93 133.23,917.55 137.6,914.2 C141.97,910.85 145.13,908.38 149.7,906.2 C154.27,904.02 156.73,903.35 165,901.1 C173.27,898.85 188.88,894.37 199.3,892.7 C209.72,891.03 216.33,891.53 227.5,891.1 C238.67,890.67 259.83,890.27 266.3,890.1" fill="none" stroke="#8c4652" stroke-width="1.1" stroke-dasharray="3,1.8"/>
<polyline points="51.1,879.4 66.44,888.28 74.11,888.28 81.79,888.28 97.13,905.14 104.8,922.31 112.47,922.31 120.14,922.31 127.81,940.36 143.16,940.36 150.83,949.53 166.17,957.52 173.84,966.1 189.19,975.27 196.86,983.41 219.87,992.73 227.54,992.73 250.56,1009.89 265.9,1018.47" fill="none" stroke="#38388a" stroke-width="0.8"/>
<polyline points="51.1,1027.35 66.44,1014.48 81.79,990.21 97.13,990.21 104.8,966.1 112.47,927.19 120.14,917.13 127.81,917.13 143.16,903.66 150.83,903.66 158.5,903.37 166.17,903.37 173.84,903.37 189.19,903.37 196.86,903.37 219.87,903.37 227.54,890.94 250.56,879.4 265.9,879.4" fill="none" stroke="#8c4652" stroke-width="0.8" stroke-dasharray="3,1.8"/>
<circle cx="51.1" cy="879.4" r="1.1" fill="#38388a"/>
<circle cx="66.44" cy="888.28" r="1.1" fill="#38388a"/>
<circle cx="74.11" cy="888.28" r="1.1" fill="#38388a"/>
<circle cx="81.79" cy="888.28" r="1.1" fill="#38388a"/>
<circle cx="97.13" cy="905.14" r="1.1" fill="#38388a"/>
<circle cx="104.8" cy="922.31" r="1.1" fill="#38388a"/>
<circle cx="112.47" cy="922.31" r="1.1" fill="#38388a"/>
<circle cx="120.14" cy="922.31" r="1.1" fill="#38388a"/>
<circle cx="127.81" cy="940.36" r="1.1" fill="#38388a"/>
<circle cx="143.16" cy="940.36" r="1.1" fill="#38388a"/>
<circle cx="150.83" cy="949.53" r="1.1" fill="#38388a"/>
<circle cx="166.17" cy="957.52" r="1.1" fill="#38388a"/>
<circle cx="173.84" cy="966.1" r="1.1" fill="#38388a"/>
<circle cx="189.19" cy="975.27" r="1.1" fill="#38388a"/>
<circle cx="196.86" cy="983.41" r="1.1" fill="#38388a"/>
<circle cx="219.87" cy="992.73" r="1.1" fill="#38388a"/>
<circle cx="227.54" cy="992.73" r="1.1" fill="#38388a"/>
<circle cx="250.56" cy="1009.89" r="1.1" fill="#38388a"/>
<circle cx="265.9" cy="1018.47" r="1.1" fill="#38388a"/>
<circle cx="51.1" cy="1027.35" r="1.1" fill="#8c4652"/>
<circle cx="66.44" cy="1014.48" r="1.1" fill="#8c4652"/>
<circle cx="81.79" cy="990.21" r="1.1" fill="#8c4652"/>
<circle cx="97.13" cy="990.21" r="1.1" fill="#8c4652"/>
<circle cx="104.8" cy="966.1" r="1.1" fill="#8c4652"/>
<circle cx="112.47" cy="927.19" r="1.1" fill="#8c4652"/>
<circle cx="120.14" cy="917.13" r="1.1" fill="#8c4652"/>
<circle cx="127.81" cy="917.13" r="1.1" fill="#8c4652"/>
<circle cx="143.16" cy="903.66" r="1.1" fill="#8c4652"/>
<circle cx="150.83" cy="903.66" r="1.1" fill="#8c4652"/>
<circle cx="158.5" cy="903.37" r="1.1" fill="#8c4652"/>
<circle cx="166.17" cy="903.37" r="1.1" fill="#8c4652"/>
<circle cx="173.84" cy="903.37" r="1.1" fill="#8c4652"/>
<circle cx="189.19" cy="903.37" r="1.1" fill="#8c4652"/>
<circle cx="196.86" cy="903.37" r="1.1" fill="#8c4652"/>
<circle cx="219.87" cy="903.37" r="1.1" fill="#8c4652"/>
<circle cx="227.54" cy="890.94" r="1.1" fill="#8c4652"/>
<circle cx="250.56" cy="879.4" r="1.1" fill="#8c4652"/>
<circle cx="265.9" cy="879.4" r="1.1" fill="#8c4652"/>
<rect x="42.5" y="873.48" width="232" height="159.79" fill="none" stroke="#333333" stroke-width="1"/>
<line x1="37" y1="1027.35" x2="42.5" y2="1027.35" stroke="#333333" stroke-width="1"/>
<text transform="translate(30.1,1027.35) rotate(-90)" text-anchor="middle" font-size="8.5" fill="#222">0.0</text>
<line x1="37" y1="997.76" x2="42.5" y2="997.76" stroke="#333333" stroke-width="1"/>
<text transform="translate(30.1,997.76) rotate(-90)" text-anchor="middle" font-size="8.5" fill="#222">0.2</text>
<line x1="37" y1="968.17" x2="42.5" y2="968.17" stroke="#333333" stroke-width="1"/>
<text transform="translate(30.1,968.17) rotate(-90)" text-anchor="middle" font-size="8.5" fill="#222">0.4</text>
<line x1="37" y1="938.58" x2="42.5" y2="938.58" stroke="#333333" stroke-width="1"/>
<text transform="translate(30.1,938.58) rotate(-90)" text-anchor="middle" font-size="8.5" fill="#222">0.6</text>
<line x1="37" y1="908.99" x2="42.5" y2="908.99" stroke="#333333" stroke-width="1"/>
<text transform="translate(30.1,908.99) rotate(-90)" text-anchor="middle" font-size="8.5" fill="#222">0.8</text>
<line x1="37" y1="879.4" x2="42.5" y2="879.4" stroke="#333333" stroke-width="1"/>
<text transform="translate(30.1,879.4) rotate(-90)" text-anchor="middle" font-size="8.5" fill="#222">1.0</text>
<line x1="74.11" y1="1033.27" x2="74.11" y2="1038.77" stroke="#333333" stroke-width="1"/>
<text x="74.11" y="1052.67" text-anchor="middle" font-size="8.5" fill="#222">10</text>
<line x1="112.47" y1="1033.27" x2="112.47" y2="1038.77" stroke="#333333" stroke-width="1"/>
<text x="112.47" y="1052.67" text-anchor="middle" font-size="8.5" fill="#222">15</text>
<line x1="150.83" y1="1033.27" x2="150.83" y2="1038.77" stroke="#333333" stroke-width="1"/>
<text x="150.83" y="1052.67" text-anchor="middle" font-size="8.5" fill="#222">20</text>
<line x1="189.19" y1="1033.27" x2="189.19" y2="1038.77" stroke="#333333" stroke-width="1"/>
<text x="189.19" y="1052.67" text-anchor="middle" font-size="8.5" fill="#222">25</text>
<line x1="227.54" y1="1033.27" x2="227.54" y2="1038.77" stroke="#333333" stroke-width="1"/>
<text x="227.54" y="1052.67" text-anchor="middle" font-size="8.5" fill="#222">30</text>
<line x1="265.9" y1="1033.27" x2="265.9" y2="1038.77" stroke="#333333" stroke-width="1"/>
<text x="265.9" y="1052.67" text-anchor="middle" font-size="8.5" fill="#222">35</text>
<text x="158.5" y="1074.47" text-anchor="middle" font-size="8.5" fill="#222">Test scale</text>
<text transform="translate(9.1,953.37) rotate(-90)" text-anchor="middle" font-size="8.95" fill="#222">Sensitivity &amp; Specificity</text>
<text x="158.5" y="1083.47" text-anchor="middle" font-size="5.95" fill="#222">Parametric (neural network) inconclusive limits at 0.9 level: 9.325-26.22.</text>
<rect x="215.2" y="937.08" width="59.3" height="33.9" fill="#fff" stroke="#333333" stroke-width="1"/>
<line x1="226.9" y1="945.5" x2="239.9" y2="945.5" stroke="#4a4a80" stroke-width="1"/>
<line x1="226.9" y1="953.5" x2="239.9" y2="953.5" stroke="#707070" stroke-width="1" stroke-dasharray="3,1.8"/>
<rect x="220.5" y="958.88" width="18.2" height="6.4" fill="#e9e9e9" stroke="#9a9a9a" stroke-width="0.9"/>
<text x="245.7" y="948.38" font-size="7.1" fill="#222">Se</text>
<text x="245.7" y="956.68" font-size="7.1" fill="#222">Sp</text>
<text x="245.7" y="964.98" font-size="7.1" fill="#222">Inc area</text>
</svg></body></html>
